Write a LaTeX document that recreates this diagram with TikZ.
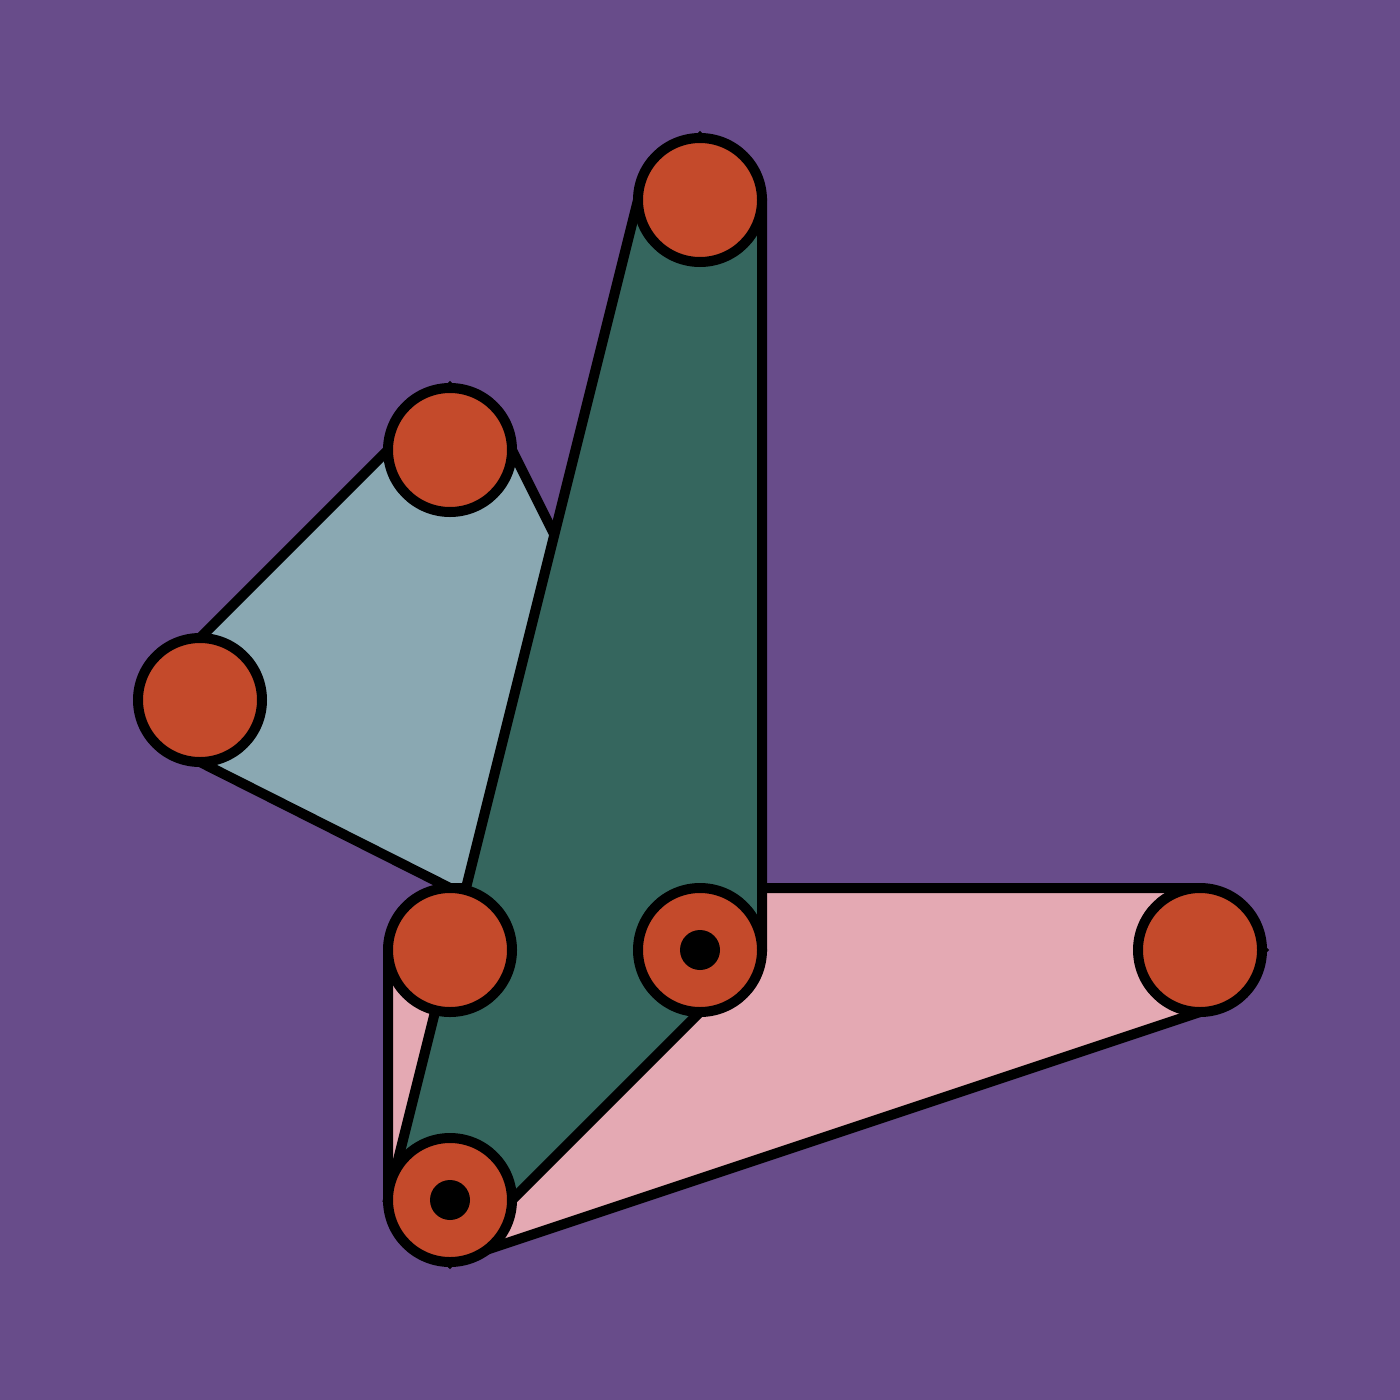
\documentclass[tikz,border=0pt]{standalone}
\definecolor{bgpurple}{HTML}{684C8A}
\definecolor{polyblue}{HTML}{8AA8B2}
\definecolor{polygreen}{HTML}{35665E}
\definecolor{polypink}{HTML}{E4A9B3}
\definecolor{circfill}{HTML}{C44A2B}
\begin{document}
\begin{tikzpicture}[x=1pt,y=-1pt,
  blob/.style={circle,draw=black,fill=circfill,line width=10pt,minimum size=124pt,inner sep=0pt,outer sep=0pt},
  blackdot/.style={circle,fill=black,minimum size=40pt,inner sep=0pt,outer sep=0pt},
  poly/.style={draw=black,line width=10pt,line join=miter}]
\fill[bgpurple] (0,0) rectangle (1400,1400);
\useasboundingbox (0,0) rectangle (1400,1400);
% polygons
\path[poly,fill=polyblue] (200,638) -- (450,388) -- (512,450) -- (762,950) -- (450,888) -- (200,762) -- cycle;
\path[poly,fill=polypink] (388,950) -- (450,888) -- (1200,888) -- (1262,950) -- (1200,1012) -- (450,1262) -- (388,1200) -- cycle;
\path[poly,fill=polygreen] (700,138) -- (762,200) -- (762,950) -- (512,1200) -- (450,1262) -- (388,1200) -- (638,200) -- cycle;
% circles
\node[blob] (n1) at (700,200) {};
\node[blob] (n2) at (450,450) {};
\node[blob] (n3) at (200,700) {};
\node[blob] (n4) at (450,950) {};
\node[blob] (n5) at (700,950) {};
\node[blob] (n6) at (1200,950) {};
\node[blob] (n7) at (450,1200) {};
\node[blackdot] (d5) at (n5) {};
\node[blackdot] (d7) at (n7) {};
\end{tikzpicture}
\end{document}
